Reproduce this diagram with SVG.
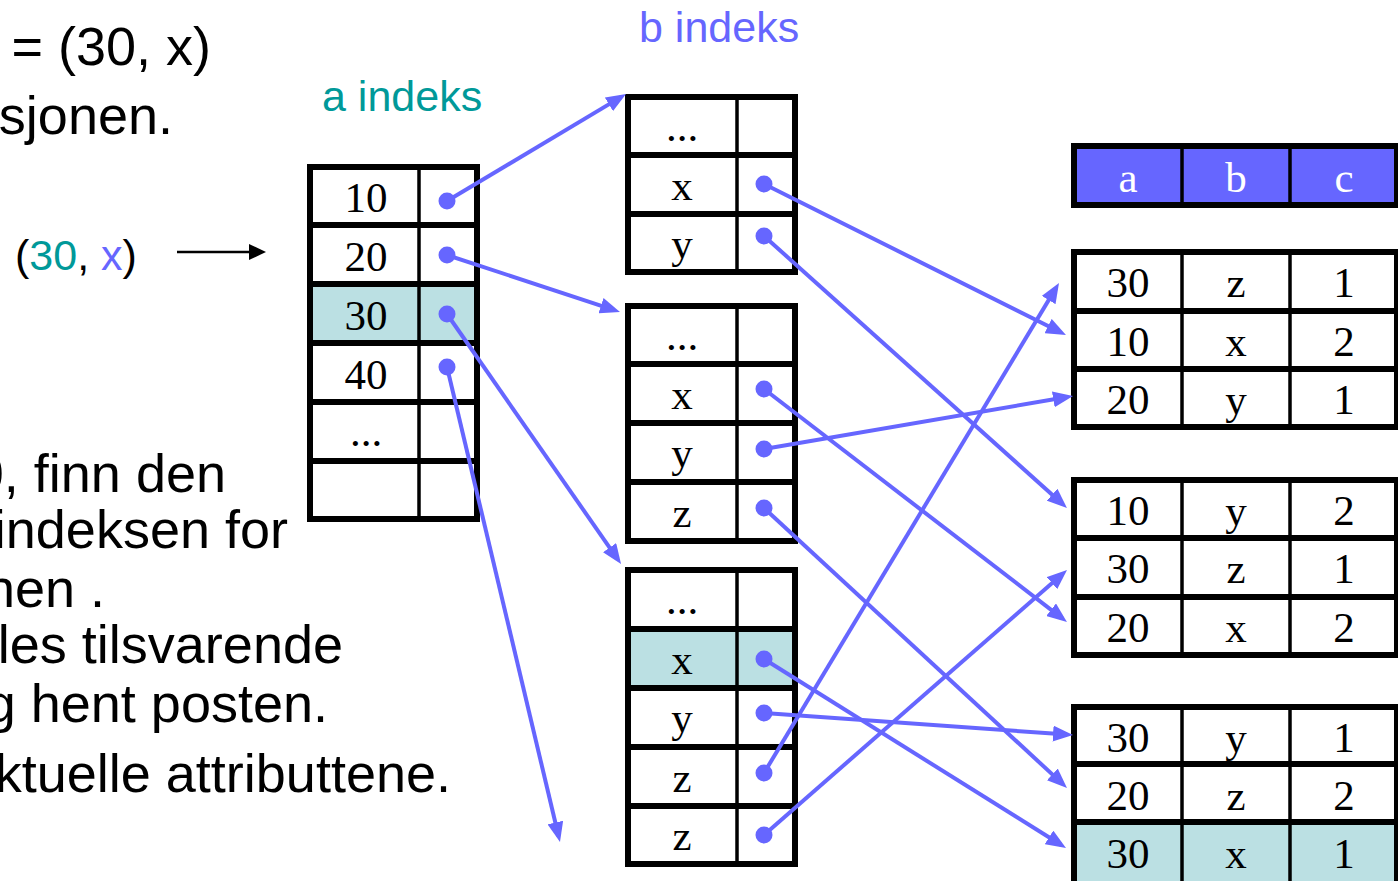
<svg xmlns="http://www.w3.org/2000/svg" width="1398" height="881" viewBox="0 0 1398 881">
  <style>
    .outer { fill: none; stroke: #000; stroke-width: 6; }
    .row { stroke: #000; stroke-width: 6; }
    .col { stroke: #000; stroke-width: 3.5; }
    .hl { fill: #bbe0e3; }
    .cell { font-family: "Liberation Serif", "Times New Roman", serif; font-size: 43px; fill: #000; text-anchor: middle; }
    .head { font-family: "Liberation Serif", "Times New Roman", serif; font-size: 43px; fill: #fff; text-anchor: middle; }
    .body { font-family: "Liberation Sans", Arial, sans-serif; font-size: 54px; fill: #000; text-anchor: end; }
    .lbl { font-family: "Liberation Sans", Arial, sans-serif; font-size: 43px; }
    .link { stroke: #6666ff; stroke-width: 4; fill: none; marker-end: url(#arrow); }
    .dot { fill: #6666ff; }
  </style>
  <defs>
    <marker id="arrow" markerUnits="userSpaceOnUse" markerWidth="20" markerHeight="16" refX="14" refY="8" orient="auto">
      <path d="M0,0 L20,8 L0,16 z" fill="#6666ff"/>
    </marker>
    <marker id="arrowBlack" markerUnits="userSpaceOnUse" markerWidth="17" markerHeight="16" refX="12" refY="8" orient="auto">
      <path d="M0,0 L17,8 L0,16 z" fill="#000"/>
    </marker>
  </defs>

  <rect width="1398" height="881" fill="#fff"/>

  <!-- explanatory text (left column, runs past the left edge) -->
  <g id="text-left">
    <text class="body" x="211" y="65">= (30, x)</text>
    <text class="body" x="173" y="134">sjonen.</text>
    <text class="body" x="226" y="492">0, finn den</text>
    <text class="body" x="288" y="548">indeksen for</text>
    <text class="body" x="105" y="607">nen .</text>
    <text class="body" x="343" y="663">les tilsvarende</text>
    <text class="body" x="328" y="722">g hent posten.</text>
    <text class="body" x="451" y="792">ktuelle attributtene.</text>
  </g>

  <!-- search key with arrow into the a index -->
  <g id="search-key">
    <text class="lbl" x="15" y="270"><tspan fill="#000">(</tspan><tspan fill="#009999">30</tspan><tspan fill="#000">, </tspan><tspan fill="#6666ff">x</tspan><tspan fill="#000">)</tspan></text>
    <line x1="177" y1="252" x2="261" y2="252" stroke="#000" stroke-width="2.5" marker-end="url(#arrowBlack)"/>
  </g>

  <!-- a index -->
  <g id="a-index">
    <text class="lbl" x="322" y="111" fill="#009999">a indeks</text>
    <rect class="hl" x="310" y="284" width="167" height="59"/>
    <line class="row" x1="310" y1="225" x2="477" y2="225"/>
    <line class="row" x1="310" y1="284" x2="477" y2="284"/>
    <line class="row" x1="310" y1="343" x2="477" y2="343"/>
    <line class="row" x1="310" y1="402" x2="477" y2="402"/>
    <line class="row" x1="310" y1="461" x2="477" y2="461"/>
    <line class="col" x1="419" y1="167" x2="419" y2="519"/>
    <rect class="outer" x="310" y="167" width="167" height="352"/>
    <text class="cell" x="366" y="212">10</text>
    <text class="cell" x="366" y="271">20</text>
    <text class="cell" x="366" y="330">30</text>
    <text class="cell" x="366" y="389">40</text>
    <text class="cell" x="366" y="446">...</text>
  </g>

  <!-- b index, block 1 -->
  <g id="b-index-1">
    <text class="lbl" x="639" y="42" fill="#6666ff">b indeks</text>
    <line class="row" x1="628" y1="155" x2="795" y2="155"/>
    <line class="row" x1="628" y1="214" x2="795" y2="214"/>
    <line class="col" x1="737" y1="97" x2="737" y2="272"/>
    <rect class="outer" x="628" y="97" width="167" height="175"/>
    <text class="cell" x="682" y="141">...</text>
    <text class="cell" x="682" y="200">x</text>
    <text class="cell" x="682" y="258">y</text>
  </g>

  <!-- b index, block 2 -->
  <g id="b-index-2">
    <line class="row" x1="628" y1="364" x2="795" y2="364"/>
    <line class="row" x1="628" y1="423" x2="795" y2="423"/>
    <line class="row" x1="628" y1="482" x2="795" y2="482"/>
    <line class="col" x1="737" y1="306" x2="737" y2="541"/>
    <rect class="outer" x="628" y="306" width="167" height="235"/>
    <text class="cell" x="682" y="350">...</text>
    <text class="cell" x="682" y="409">x</text>
    <text class="cell" x="682" y="467">y</text>
    <text class="cell" x="682" y="527">z</text>
  </g>

  <!-- b index, block 3 -->
  <g id="b-index-3">
    <rect class="hl" x="628" y="629" width="167" height="59"/>
    <line class="row" x1="628" y1="629" x2="795" y2="629"/>
    <line class="row" x1="628" y1="688" x2="795" y2="688"/>
    <line class="row" x1="628" y1="747" x2="795" y2="747"/>
    <line class="row" x1="628" y1="806" x2="795" y2="806"/>
    <line class="col" x1="737" y1="570" x2="737" y2="864"/>
    <rect class="outer" x="628" y="570" width="167" height="294"/>
    <text class="cell" x="682" y="614">...</text>
    <text class="cell" x="682" y="674">x</text>
    <text class="cell" x="682" y="732">y</text>
    <text class="cell" x="682" y="792">z</text>
    <text class="cell" x="682" y="850">z</text>
  </g>

  <!-- relation header -->
  <g id="relation-header">
    <rect x="1074" y="146" width="323" height="59" fill="#6666ff"/>
    <line class="col" x1="1182" y1="146" x2="1182" y2="205"/>
    <line class="col" x1="1290" y1="146" x2="1290" y2="205"/>
    <rect class="outer" x="1074" y="146" width="323" height="59"/>
    <text class="head" x="1128" y="192">a</text>
    <text class="head" x="1236" y="192">b</text>
    <text class="head" x="1344" y="192">c</text>
  </g>

  <!-- relation block 1 -->
  <g id="block-1">
    <line class="row" x1="1074" y1="311" x2="1397" y2="311"/>
    <line class="row" x1="1074" y1="369" x2="1397" y2="369"/>
    <line class="col" x1="1182" y1="252" x2="1182" y2="427"/>
    <line class="col" x1="1290" y1="252" x2="1290" y2="427"/>
    <rect class="outer" x="1074" y="252" width="323" height="175"/>
    <text class="cell" x="1128" y="297">30</text><text class="cell" x="1236" y="297">z</text><text class="cell" x="1344" y="297">1</text>
    <text class="cell" x="1128" y="356">10</text><text class="cell" x="1236" y="356">x</text><text class="cell" x="1344" y="356">2</text>
    <text class="cell" x="1128" y="414">20</text><text class="cell" x="1236" y="414">y</text><text class="cell" x="1344" y="414">1</text>
  </g>

  <!-- relation block 2 -->
  <g id="block-2">
    <line class="row" x1="1074" y1="538" x2="1397" y2="538"/>
    <line class="row" x1="1074" y1="597" x2="1397" y2="597"/>
    <line class="col" x1="1182" y1="480" x2="1182" y2="655"/>
    <line class="col" x1="1290" y1="480" x2="1290" y2="655"/>
    <rect class="outer" x="1074" y="480" width="323" height="175"/>
    <text class="cell" x="1128" y="525">10</text><text class="cell" x="1236" y="525">y</text><text class="cell" x="1344" y="525">2</text>
    <text class="cell" x="1128" y="583">30</text><text class="cell" x="1236" y="583">z</text><text class="cell" x="1344" y="583">1</text>
    <text class="cell" x="1128" y="642">20</text><text class="cell" x="1236" y="642">x</text><text class="cell" x="1344" y="642">2</text>
  </g>

  <!-- relation block 3 -->
  <g id="block-3">
    <rect class="hl" x="1074" y="822" width="323" height="62"/>
    <line class="row" x1="1074" y1="764" x2="1397" y2="764"/>
    <line class="row" x1="1074" y1="822" x2="1397" y2="822"/>
    <line class="col" x1="1182" y1="707" x2="1182" y2="884"/>
    <line class="col" x1="1290" y1="707" x2="1290" y2="884"/>
    <rect class="outer" x="1074" y="707" width="323" height="177"/>
    <text class="cell" x="1128" y="752">30</text><text class="cell" x="1236" y="752">y</text><text class="cell" x="1344" y="752">1</text>
    <text class="cell" x="1128" y="810">20</text><text class="cell" x="1236" y="810">z</text><text class="cell" x="1344" y="810">2</text>
    <text class="cell" x="1128" y="868">30</text><text class="cell" x="1236" y="868">x</text><text class="cell" x="1344" y="868">1</text>
  </g>

  <!-- pointers -->
  <g id="connectors">
    <line class="link" x1="447" y1="201" x2="620.9" y2="97.1"/>
    <line class="link" x1="447" y1="255" x2="614.3" y2="310.1"/>
    <line class="link" x1="447" y1="314" x2="617.6" y2="559.1"/>
    <line class="link" x1="447" y1="367" x2="558.6" y2="836.2"/>
    <line class="link" x1="764" y1="184" x2="1060.6" y2="332.3"/>
    <line class="link" x1="764" y1="236" x2="1062.5" y2="504.0"/>
    <line class="link" x1="764" y1="389" x2="1062.2" y2="618.3"/>
    <line class="link" x1="764" y1="449" x2="1067.1" y2="397.0"/>
    <line class="link" x1="764" y1="508" x2="1062.6" y2="783.9"/>
    <line class="link" x1="764" y1="659" x2="1060.9" y2="844.8"/>
    <line class="link" x1="764" y1="713" x2="1067.0" y2="734.6"/>
    <line class="link" x1="764" y1="773" x2="1055.9" y2="288.1"/>
    <line class="link" x1="764" y1="835" x2="1062.5" y2="573.9"/>
    <circle class="dot" cx="447" cy="201" r="8.5"/>
    <circle class="dot" cx="447" cy="255" r="8.5"/>
    <circle class="dot" cx="447" cy="314" r="8.5"/>
    <circle class="dot" cx="447" cy="367" r="8.5"/>
    <circle class="dot" cx="764" cy="184" r="8.5"/>
    <circle class="dot" cx="764" cy="236" r="8.5"/>
    <circle class="dot" cx="764" cy="389" r="8.5"/>
    <circle class="dot" cx="764" cy="449" r="8.5"/>
    <circle class="dot" cx="764" cy="508" r="8.5"/>
    <circle class="dot" cx="764" cy="659" r="8.5"/>
    <circle class="dot" cx="764" cy="713" r="8.5"/>
    <circle class="dot" cx="764" cy="773" r="8.5"/>
    <circle class="dot" cx="764" cy="835" r="8.5"/>
  </g>
</svg>
